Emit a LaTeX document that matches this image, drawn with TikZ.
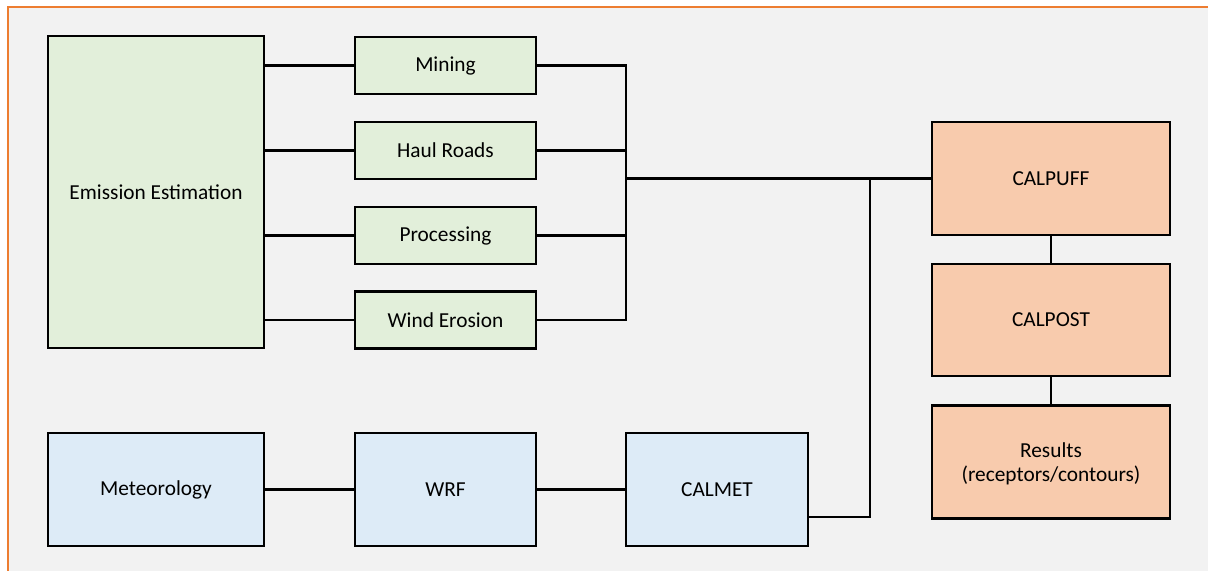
\documentclass[tikz,border=0pt]{standalone}
\usepackage{fontspec}
\setmainfont{Carlito}
\definecolor{bg}{HTML}{F2F2F2}
\definecolor{frame}{HTML}{ED7D31}
\definecolor{gfill}{HTML}{E2EFDA}
\definecolor{bfill}{HTML}{DDEBF7}
\definecolor{ofill}{HTML}{F8CBAD}
\begin{document}
\begin{tikzpicture}[x=0.75pt,y=-0.75pt,
  box/.style={draw=black,line width=2pt,inner sep=0pt,font=\fontsize{16}{18}\selectfont,align=center},
  gbox/.style={box,fill=gfill},
  bbox/.style={box,fill=bfill},
  obox/.style={box,fill=ofill},
  conn/.style={draw=black,line width=1.7pt}]
\useasboundingbox (0,0) rectangle (1208,571);
\fill[bg] (8,7) rectangle (1208,571);
\draw[frame,line width=1.5pt] (8,571) -- (8,7) -- (1208,7);
% boxes
\node[gbox,minimum width=216*0.75pt,minimum height=312*0.75pt] (emis) at (156,192) {Emission Estimation};
\node[gbox,minimum width=181*0.75pt,minimum height=57*0.75pt] (mining) at (445.5,65.5) {Mining};
\node[gbox,minimum width=181*0.75pt,minimum height=57*0.75pt] (haul) at (445.5,150.5) {Haul Roads};
\node[gbox,minimum width=181*0.75pt,minimum height=57*0.75pt] (proc) at (445.5,235.5) {Processing};
\node[gbox,minimum width=181*0.75pt,minimum height=57*0.75pt] (wind) at (445.5,320) {Wind Erosion};
\node[bbox,minimum width=216*0.75pt,minimum height=113*0.75pt] (met) at (156,489.5) {Meteorology};
\node[bbox,minimum width=181*0.75pt,minimum height=113*0.75pt] (wrf) at (445.5,489.5) {WRF};
\node[bbox,minimum width=182*0.75pt,minimum height=113*0.75pt] (calmet) at (717,489.5) {CALMET};
\node[obox,minimum width=238*0.75pt,minimum height=113*0.75pt] (calpuff) at (1051,178.5) {CALPUFF};
\node[obox,minimum width=238*0.75pt,minimum height=112*0.75pt] (calpost) at (1051,320) {CALPOST};
\node[obox,minimum width=238*0.75pt,minimum height=113*0.75pt] (results) at (1051,462) {\rule{0pt}{14pt}Results\\(receptors/contours)};
% junction points
\coordinate (bus) at (626,178.5);
\coordinate (mbus) at (870,178.5);
\coordinate (calmetout) at (808,517);
% connectors
\draw[conn] (emis.east |- mining) -- (mining.west);
\draw[conn] (emis.east |- haul) -- (haul.west);
\draw[conn] (emis.east |- proc) -- (proc.west);
\draw[conn] (emis.east |- wind) -- (wind.west);
\draw[conn] (mining.east) -| (bus |- wind.east) -- (wind.east);
\draw[conn] (haul.east) -- (bus |- haul.east);
\draw[conn] (proc.east) -- (bus |- proc.east);
\draw[conn] (bus) -- (calpuff.west);
\draw[conn] (calmetout) -| (mbus);
\draw[conn] (met) -- (wrf);
\draw[conn] (wrf) -- (calmet);
\draw[conn] (calpuff) -- (calpost);
\draw[conn] (calpost) -- (results);
\end{tikzpicture}
\end{document}
